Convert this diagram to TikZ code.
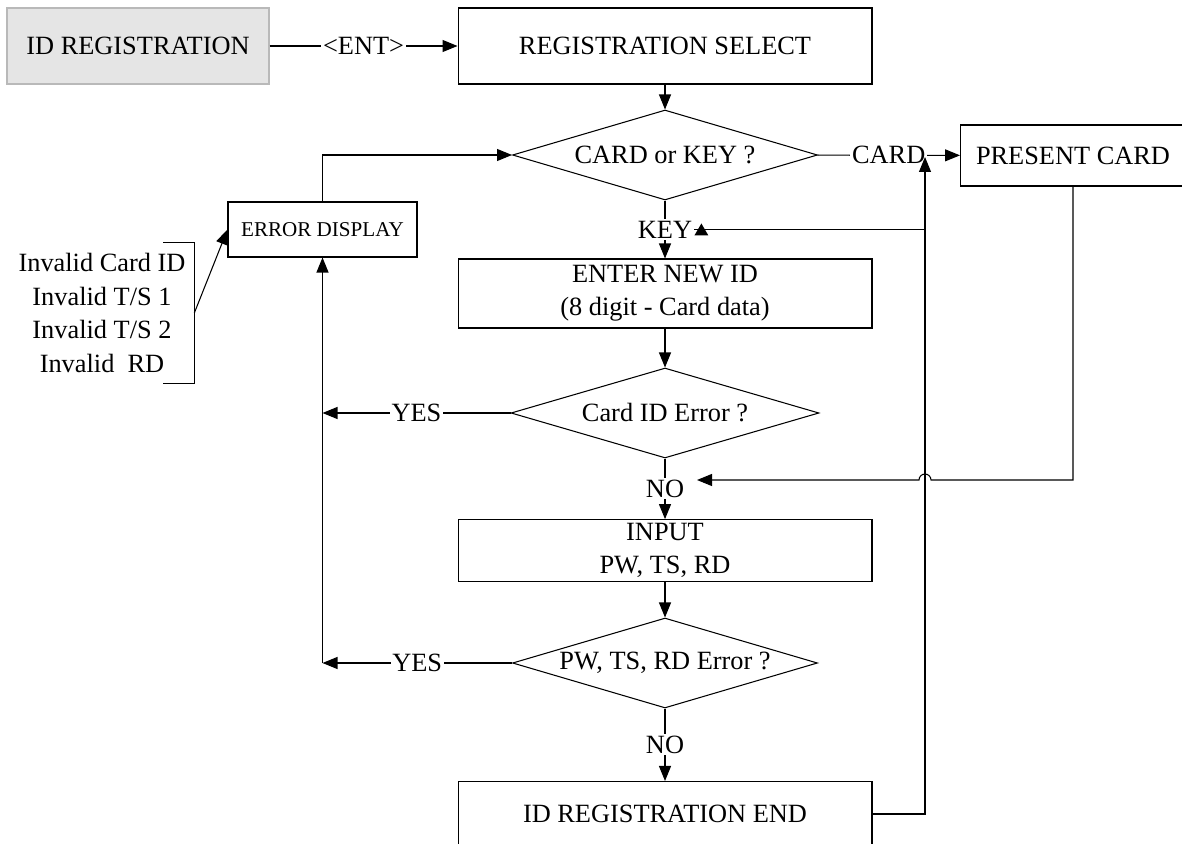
\documentclass[tikz,border=0pt]{standalone}
\usepackage{fontspec}
\setmainfont{Liberation Serif}
\usetikzlibrary{arrows.meta,positioning,shapes.geometric,calc}
\definecolor{softgray}{RGB}{229,229,229}
\definecolor{edgegray}{RGB}{185,185,185}
\tikzset{
  block/.style={rectangle, draw=black, line width=0.6pt, minimum width=8.28cm,
                minimum height=1.3cm, align=center, inner sep=2pt},
  blockgray/.style={block, fill=softgray, draw=edgegray, minimum width=5.24cm, minimum height=1.52cm},
  decision/.style={diamond, draw, line width=0.6pt, minimum width=6.1cm, minimum height=1.8cm, inner sep=0pt},
  lbl/.style={fill=white, inner sep=1pt},
  arrow/.style={-{Triangle[length=0.3cm, width=0.24cm]}, line width=0.6pt},
  line/.style={line width=0.6pt},
}
\begin{document}
\begin{tikzpicture}[x=0.02cm, y=-0.02cm, font=\fontsize{15pt}{19pt}\selectfont]
\useasboundingbox (0,0) rectangle (1182,844);
\clip (0,0) rectangle (1182,844);

% main column
\node[blockgray] (idreg) at (138,46) {ID REGISTRATION};
\node[block, minimum height=1.52cm] (regsel) at (665,46) {REGISTRATION SELECT};
\node[decision, label=center:{CARD or KEY ?}] (cardkey) at (665,155) {};
\node[block, minimum height=1.38cm] (enterid) at (665,293.5) {ENTER NEW ID\\(8 digit - Card data)};
\node[decision, minimum width=6.16cm, label=center:{Card ID Error ?}] (iderr) at (665,413) {};
\node[block, minimum height=1.22cm] (input) at (665,550.5) {INPUT\\PW, TS, RD};
\node[decision, label=center:{PW, TS, RD Error ?}] (pwerr) at (665,663) {};
\node[block] (regend) at (665,814) {ID REGISTRATION END};

% side boxes
\node[block, minimum width=4.5cm, minimum height=1.22cm] (present) at (1073,155.5) {PRESENT CARD};
\node[block, minimum width=3.78cm, minimum height=1.1cm, font=\fontsize{12pt}{14pt}\selectfont] (errdisp) at (322.5,229.5) {ERROR DISPLAY};
\node[align=center, minimum width=3.68cm, minimum height=2.8cm, inner sep=0pt] (invlist) at (102,313)
  {Invalid Card ID\\Invalid T/S 1\\Invalid T/S 2\\Invalid\ \ RD};
\draw[line] ([xshift=-0.62cm]invlist.north east) -- (invlist.north east) -- (invlist.south east) -- ++(-0.62cm,0);

% connectors
\draw[arrow] (idreg) -- node[lbl] {<ENT>} (regsel);
\draw[arrow] (regsel) -- (cardkey);
\draw[arrow] (cardkey) -- node[lbl] {CARD} (present);
\draw[arrow] (cardkey) -- node[lbl] (key) {KEY} (enterid);
\draw[arrow] (enterid) -- (iderr);
\draw[arrow] (iderr) -- node[lbl] {NO} (input);
\draw[arrow] (input) -- (pwerr);
\draw[arrow] (pwerr) -- node[lbl] {NO} (regend);
\draw[arrow] (iderr.west) -- node[lbl] {YES} (errdisp.south |- iderr.west);
\draw[arrow] (pwerr.west) -- node[lbl] {YES} (errdisp.south |- pwerr.west);
\draw[arrow] (errdisp.south |- pwerr.west) -- (errdisp.south);
\draw[arrow] (errdisp.north) |- (cardkey.west);
\draw[arrow] (invlist.east) -- (errdisp.west);

% return rail
\coordinate (jn) at (925,155);
\coordinate (notip) at (697,480);
\draw[arrow] (present.south) |- ([xshift=0.12cm]jn |- notip) arc[start angle=0, end angle=180, radius=0.12cm] -- (notip);
\draw[arrow] (regend.east) -| ([yshift=-0.04cm]jn);
\draw[line] (jn |- key) -- (key.east);
\fill (key.east) ++(0,6) -- ++(14,0) -- ++(-7,-12) -- cycle;
\end{tikzpicture}
\end{document}
